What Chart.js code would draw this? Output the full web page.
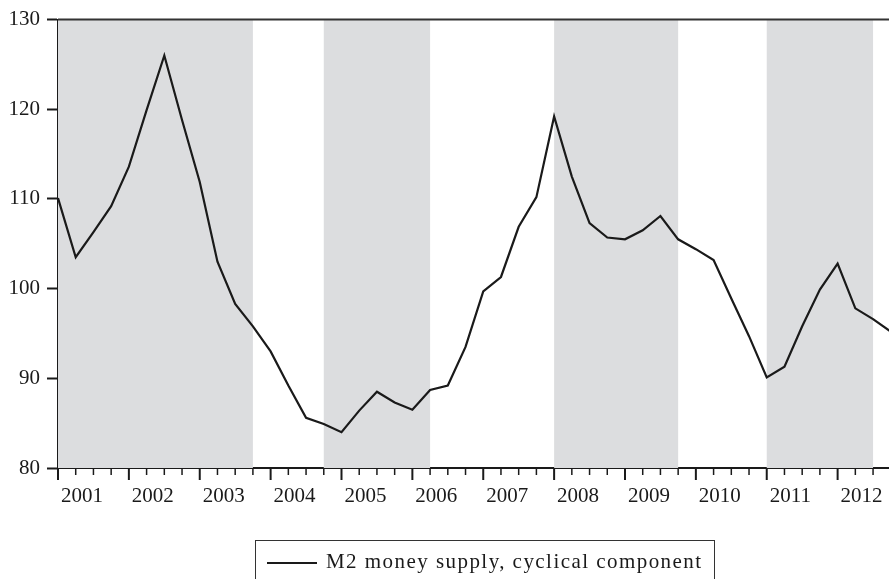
<!DOCTYPE html>
<html>
<head>
<meta charset="utf-8">
<script src="https://cdn.jsdelivr.net/npm/chart.js@4"></script>
<style>
    html, body { margin: 0; padding: 0; background: #fff; }
    #wrap { position: relative; width: 889px; height: 579px; overflow: hidden; }
    #legend {
        position: absolute; left: 255px; top: 540px; width: 460px; height: 60px;
        border: 1.5px solid #333; box-sizing: border-box;
        font-family: "Liberation Serif", "DejaVu Serif", serif; font-size: 21px; color: #1a1a1a;
    }
    #legend .swatch { position: absolute; left: 11px; top: 21px; width: 50px; height: 2px; background: #1a1a1a; }
    #legend .label { position: absolute; left: 70px; top: 8px; letter-spacing: 1.45px; white-space: nowrap; }
</style>
</head>
<body>
<div id="wrap">
    <canvas id="chart" width="889" height="579"></canvas>
    <div id="legend"><span class="swatch"></span><span class="label">M2 money supply, cyclical component</span></div>
</div>
<script>
// quarterly data, 2001Q1 .. 2012Q4
const years = [2001, 2002, 2003, 2004, 2005, 2006, 2007, 2008, 2009, 2010, 2011, 2012];
const m2Cyclical = [
    110.1, 103.5, 106.3, 109.2, 113.6, 119.9, 126.0, 118.8, 111.9, 103.0, 98.3, 95.8,
    93.0, 89.2, 85.6, 84.9, 84.0, 86.4, 88.5, 87.3, 86.5, 88.7, 89.2, 93.5,
    99.7, 101.3, 106.9, 110.2, 119.2, 112.5, 107.3, 105.7, 105.5, 106.5, 108.1, 105.5,
    104.4, 103.2, 98.9, 94.7, 90.1, 91.3, 95.8, 99.9, 102.8, 97.8, 96.6, 95.2
];
const yTicks = [80, 90, 100, 110, 120, 130];
// shaded periods (start quarter, end quarter)
const shadeFrom = ['2001Q1', '2004Q4', '2008Q1', '2011Q1'];
const shadeTo = ['2003Q4', '2006Q2', '2009Q4', '2012Q3'];

const quarters = [];
years.forEach(y => { for (let q = 1; q <= 4; q++) quarters.push(y + 'Q' + q); });

const FONT = '"Liberation Serif", "DejaVu Serif", serif';
const INK = '#1a1a1a';

const framePlugin = {
    id: 'frame',
    beforeDatasetsDraw(chart) {
        const { ctx, chartArea: a, scales: { x } } = chart;
        ctx.save();
        ctx.fillStyle = '#dcdddf';
        shadeFrom.forEach((s, i) => {
            const x0 = Math.max(a.left, x.getPixelForValue(quarters.indexOf(s)));
            const x1 = Math.min(a.right, x.getPixelForValue(quarters.indexOf(shadeTo[i])));
            ctx.fillRect(x0, a.top, x1 - x0, a.bottom - a.top);
        });
        ctx.restore();
    },
    afterDraw(chart) {
        const { ctx, chartArea: a, scales: { x } } = chart;
        ctx.save();
        // top border
        ctx.strokeStyle = '#333';
        ctx.lineWidth = 2;
        ctx.beginPath();
        ctx.moveTo(a.left, a.top);
        ctx.lineTo(a.right, a.top);
        ctx.stroke();
        // quarter ticks and year labels
        ctx.strokeStyle = INK;
        ctx.fillStyle = INK;
        ctx.font = '21px ' + FONT;
        ctx.textAlign = 'left';
        ctx.textBaseline = 'alphabetic';
        quarters.forEach((q, i) => {
            const px = x.getPixelForValue(i);
            if (px > a.right + 1) return;
            const major = i % 4 === 0;
            ctx.lineWidth = major ? 2 : 1.5;
            ctx.beginPath();
            ctx.moveTo(px, a.bottom);
            ctx.lineTo(px, a.bottom + (major ? 12 : 7));
            ctx.stroke();
            if (major) ctx.fillText(String(years[i / 4]), px + 3, a.bottom + 34);
        });
        ctx.restore();
    }
};

new Chart(document.getElementById('chart'), {
    type: 'line',
    data: {
        datasets: [{
            label: 'M2 money supply, cyclical component',
            data: m2Cyclical.map((v, i) => ({ x: i, y: v })),
            borderColor: INK,
            borderWidth: 2.2,
            pointRadius: 0,
            tension: 0
        }]
    },
    options: {
        responsive: false,
        animation: false,
        layout: { padding: { top: 19, right: 0, left: 0, bottom: 0 } },
        plugins: { legend: { display: false }, tooltip: { enabled: false } },
        scales: {
            x: {
                type: 'linear',
                min: 0,
                max: 46.9,
                ticks: { display: false },
                grid: { display: false },
                border: { display: true, color: INK, width: 2 },
                afterFit: s => { s.height = 111; }
            },
            y: {
                min: 80,
                max: 130,
                afterBuildTicks: s => { s.ticks = yTicks.map(v => ({ value: v })); },
                ticks: { color: INK, font: { family: FONT, size: 21 }, padding: 7 },
                grid: { drawOnChartArea: false, drawTicks: true, tickLength: 11, tickColor: INK, tickWidth: 2 },
                border: { display: true, color: INK, width: 2 },
                afterFit: s => { s.width = 58; }
            }
        }
    },
    plugins: [framePlugin]
});
</script>
</body>
</html>
